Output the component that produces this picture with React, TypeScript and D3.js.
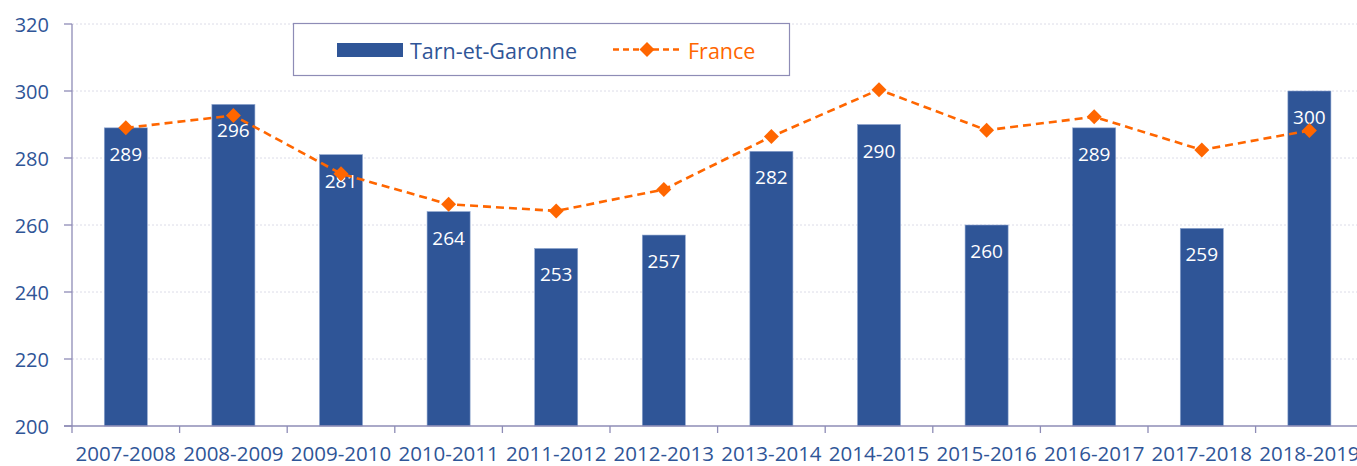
import React from "react";
import * as d3 from "d3";

const width = 1357;
const height = 466;

const seasons = [
  "2007-2008", "2008-2009", "2009-2010", "2010-2011", "2011-2012", "2012-2013",
  "2013-2014", "2014-2015", "2015-2016", "2016-2017", "2017-2018", "2018-2019",
];
const tarnEtGaronne = [289, 296, 281, 264, 253, 257, 282, 290, 260, 289, 259, 300];
const france = [289, 292.7, 275.3, 266.2, 264.2, 270.6, 286.4, 300.4, 288.3, 292.3, 282.4, 288.2];
const yTicks = [200, 220, 240, 260, 280, 300, 320];

const blue = "#2F5597";
const orange = "#FF6600";
const axisColor = "#8E8CB6";
const font = "'Open Sans', sans-serif";

export default function App() {
  const left = 72;
  const top = 24;
  const bottom = 426;

  const x = d3.scaleBand().domain(seasons).range([left, left + 107.6 * 12]).paddingInner(0.6).paddingOuter(0.3);
  const y = d3.scaleLinear().domain([200, 320]).range([bottom, top]);

  const cx = (s: string) => (x(s) as number) + x.bandwidth() / 2;
  const step = x.step();

  const line = d3
    .line<number>()
    .x((d, i) => cx(seasons[i]))
    .y((d) => y(d));

  const diamond = d3.symbol().type(d3.symbolSquare).size(112)();

  return (
    <div style={{ position: "absolute", left: 0, top: 0 }}>
      <svg width={width} height={height} viewBox={`0 0 ${width} ${height}`} style={{ display: "block" }}>
        {/* gridlines */}
        {yTicks.slice(1).map((t) => (
          <line key={t} x1={left} x2={width} y1={y(t)} y2={y(t)} stroke="#DCDCE8" strokeWidth={1} strokeDasharray="2,2" />
        ))}

        {/* bars */}
        {tarnEtGaronne.map((v, i) => (
          <rect
            key={seasons[i]}
            x={x(seasons[i])}
            y={y(v)}
            width={x.bandwidth()}
            height={bottom - y(v)}
            fill={blue}
            stroke="#8FA6CF"
            strokeWidth={0.6}
          />
        ))}

        {/* bar labels */}
        {tarnEtGaronne.map((v, i) => (
          <text
            key={"l" + seasons[i]}
            x={cx(seasons[i])}
            y={y(v) + 26}
            fill="#fff"
            fontFamily={font}
            fontSize={19}
            textAnchor="middle"
            dominantBaseline="central"
          >
            {v}
          </text>
        ))}

        {/* France line */}
        <path d={line(france) || ""} fill="none" stroke={orange} strokeWidth={2.6} strokeDasharray="8,5" />
        {france.map((v, i) => (
          <path
            key={"m" + i}
            d={diamond || ""}
            transform={`translate(${cx(seasons[i])},${y(v)}) rotate(45)`}
            fill={orange}
          />
        ))}

        {/* y axis */}
        <line x1={left} x2={left} y1={top} y2={bottom + 7} stroke={axisColor} strokeWidth={1.3} />
        {yTicks.map((t) => (
          <g key={"t" + t}>
            <line x1={left - 8} x2={left} y1={y(t)} y2={y(t)} stroke={axisColor} strokeWidth={1.3} />
            <text
              x={49}
              y={y(t)}
              fill={blue}
              fontFamily={font}
              fontSize={20}
              textAnchor="end"
              dominantBaseline="central"
            >
              {t}
            </text>
          </g>
        ))}

        {/* x axis */}
        <line x1={left - 8} x2={width} y1={bottom} y2={bottom} stroke={axisColor} strokeWidth={1.3} />
        {seasons.map((s, i) => (
          <g key={"x" + s}>
            <line
              x1={left + step * (i + 1)}
              x2={left + step * (i + 1)}
              y1={bottom}
              y2={bottom + 7}
              stroke={axisColor}
              strokeWidth={1.3}
            />
            <text x={cx(s)} y={461} fill={blue} fontFamily={font} fontSize={20.5} textAnchor="middle">
              {s}
            </text>
          </g>
        ))}

        {/* legend */}
        <rect x={293.5} y={23.5} width={496} height={52} fill="#fff" stroke={axisColor} strokeWidth={1.2} />
        <rect x={337} y={43} width={66} height={14} fill={blue} />
        <text x={410} y={50} fill={blue} fontFamily={font} fontSize={21.5} dominantBaseline="central">
          Tarn-et-Garonne
        </text>
        <line x1={613} x2={680} y1={49.5} y2={49.5} stroke={orange} strokeWidth={2.6} strokeDasharray="6,4" />
        <path d={diamond || ""} transform="translate(647,49.5) rotate(45)" fill={orange} />
        <text x={688} y={50} fill={orange} fontFamily={font} fontSize={21.5} dominantBaseline="central">
          France
        </text>
      </svg>
    </div>
  );
}
